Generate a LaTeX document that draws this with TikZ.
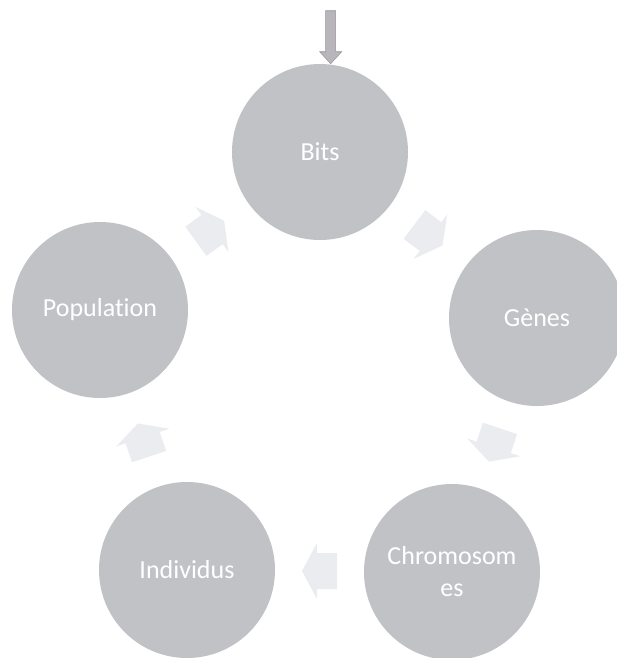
\documentclass[tikz,border=0pt]{standalone}
\usepackage{fontspec}
\setmainfont{Carlito}[Ligatures=NoCommon]
\usetikzlibrary{calc}

\definecolor{discgray}{RGB}{192,194,198}
\definecolor{flowgray}{RGB}{234,236,240}
\definecolor{feedgray}{RGB}{184,182,186}
\definecolor{feededge}{RGB}{150,150,156}

\begin{document}
\begin{tikzpicture}[x=0.75pt, y=-0.75pt,
    stage/.style={circle, fill=discgray, minimum size=132pt, inner sep=0pt,
        text=white, align=center, font=\fontsize{19.5}{24}\selectfont},
    flow/.pic={\fill[flowgray] (-17.5,-18) -- (2.5,-18) -- (2.5,-28) -- (17.5,0)
        -- (2.5,28) -- (2.5,18) -- (-17.5,18) -- cycle;},
    feed/.pic={\filldraw[fill=feedgray, draw=feededge, thin] (0,0) -- (-11,-12)
        -- (-5,-12) -- (-5,-53) -- (5,-53) -- (5,-12) -- (11,-12) -- cycle;}]
    \useasboundingbox (0,0) rectangle (617,658);

    % The five stages
    \node[stage] (bits) at (320,152) {Bits};
    \node[stage] (genes) at (537,318) {Gènes};
    \node[stage] (chrom) at (452,572) {Chromosom\\es};
    \node[stage] (indiv) at (187,570) {Individus};
    \node[stage] (pop) at (100,310) {Population};

    % Input arrow on top
    \coordinate (feedtip) at ([xshift=8pt]bits.north);
    \pic at (feedtip) {feed};

    % Cycle arrows between the stages
    \pic[rotate=-37] at ($(bits)!0.5!(genes)$) {flow};
    \pic[rotate=-108.5] at ($(genes)!0.5!(chrom)$) {flow};
    \pic[rotate=180] at ($(chrom)!0.5!(indiv)$) {flow};
    \pic[rotate=108.5] at ($(indiv)!0.5!(pop)$) {flow};
    \pic[rotate=36] at ($(pop)!0.5!(bits)$) {flow};
\end{tikzpicture}
\end{document}
